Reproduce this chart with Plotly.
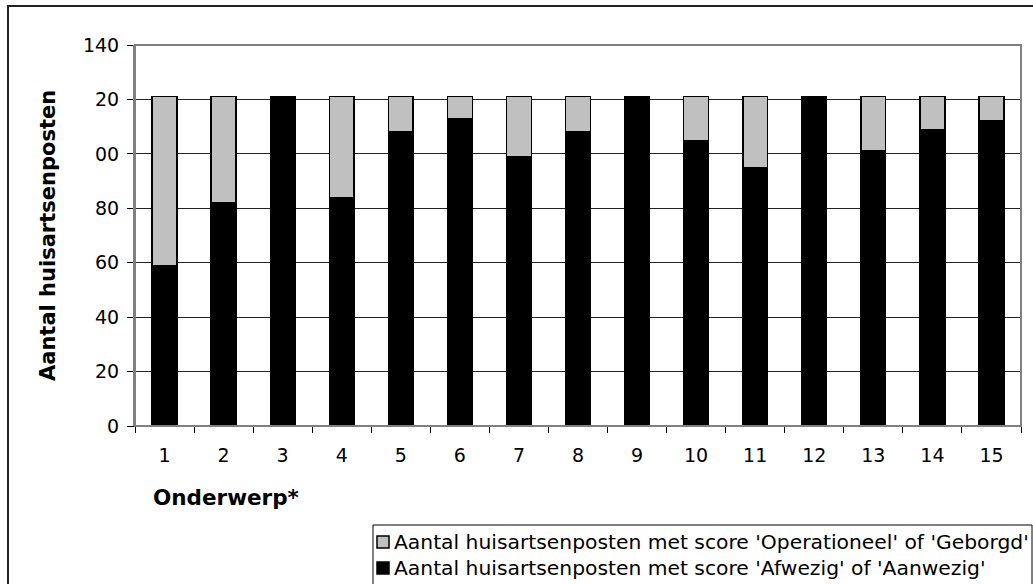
import plotly.graph_objects as go

categories = [str(i) for i in range(1, 16)]
afwezig_aanwezig = [59, 82, 121, 84, 108, 113, 99, 108, 121, 105, 95, 121, 101, 109, 112]
totaal = [121] * 15
operationeel_geborgd = [t - a for t, a in zip(totaal, afwezig_aanwezig)]
y_tickvals = [0, 20, 40, 60, 80, 100, 120, 140]
y_ticktext = ["0", "20", "40", "60", "80", "00", "20", "140"]

name_gray = "Aantal huisartsenposten met score 'Operationeel' of 'Geborgd'"
name_black = "Aantal huisartsenposten met score 'Afwezig' of 'Aanwezig'"

W, H = 1033, 584
L, R, T, B = 135, 1021, 45, 426
FONT = "DejaVu Sans, Verdana, sans-serif"


def px(x):
    return (x - L) / (R - L)


def py(y):
    return (B - y) / (B - T)


fig = go.Figure()
fig.add_trace(go.Bar(x=categories, y=afwezig_aanwezig, name=name_black,
                     marker=dict(color="#000000", line=dict(color="#000000", width=1.5)),
                     width=0.42, showlegend=False))
fig.add_trace(go.Bar(x=categories, y=operationeel_geborgd, name=name_gray,
                     marker=dict(color="#c0c0c0", line=dict(color="#000000", width=1.5)),
                     width=0.42, showlegend=False))

shapes = [
    # plot area frame
    dict(type="rect", xref="paper", yref="paper", x0=0, x1=1, y0=0, y1=1,
         line=dict(color="#808080", width=2), layer="above"),
    # outer chart frame
    dict(type="rect", xref="paper", yref="paper", x0=px(8), x1=px(1045), y0=py(6), y1=py(600),
         line=dict(color="#222222", width=2)),
    # legend frame
    dict(type="rect", xref="paper", yref="paper", x0=px(373), x1=px(1032), y0=py(525), y1=py(600),
         line=dict(color="#000000", width=1)),
    # legend swatches
    dict(type="rect", xref="paper", yref="paper", x0=px(377), x1=px(389), y0=py(536), y1=py(548),
         fillcolor="#c0c0c0", line=dict(color="#000000", width=1.5)),
    dict(type="rect", xref="paper", yref="paper", x0=px(377), x1=px(389), y0=py(562), y1=py(574),
         fillcolor="#000000", line=dict(color="#000000", width=1.5)),
]

annotations = [
    dict(text="<b>Aantal huisartsenposten</b>", xref="paper", yref="paper", x=px(48), y=py(236),
         textangle=-90, showarrow=False, font=dict(family=FONT, size=21, color="#000000"),
         xanchor="center", yanchor="middle"),
    dict(text="<b>Onderwerp*</b>", xref="paper", yref="paper", x=px(151), y=py(497),
         showarrow=False, font=dict(family=FONT, size=21.5, color="#000000"),
         xanchor="left", yanchor="middle"),
    dict(text=name_gray, xref="paper", yref="paper", x=px(392), y=py(542),
         showarrow=False, font=dict(family=FONT, size=20.3, color="#000000"),
         xanchor="left", yanchor="middle"),
    dict(text=name_black, xref="paper", yref="paper", x=px(392), y=py(568),
         showarrow=False, font=dict(family=FONT, size=20.3, color="#000000"),
         xanchor="left", yanchor="middle"),
]

fig.update_layout(
    width=W, height=H,
    margin=dict(l=L, r=W - R, t=T, b=H - B, pad=0),
    paper_bgcolor="#ffffff", plot_bgcolor="#ffffff",
    barmode="stack",
    font=dict(family=FONT, size=19, color="#000000"),
    shapes=shapes, annotations=annotations,
    xaxis=dict(type="category", tickson="boundaries", ticks="outside", ticklen=6,
               tickcolor="#000000", tickwidth=1, showline=True, linecolor="#000000",
               linewidth=1, showgrid=False, tickfont=dict(size=19), range=[-0.5, 14.5],
               ticklabelstandoff=12),
    yaxis=dict(range=[0, 140], tickvals=y_tickvals, ticktext=y_ticktext, ticks="outside",
               ticklen=6, tickcolor="#000000", tickwidth=1, showline=True, linecolor="#808080",
               linewidth=2, showgrid=True, gridcolor="#222222", gridwidth=1,
               zeroline=False, tickfont=dict(size=19), ticklabelstandoff=4),
)

fig.write_html("out.html", config={"displayModeBar": False},
               post_script="document.body.style.margin='0';document.body.style.overflow='hidden';")
